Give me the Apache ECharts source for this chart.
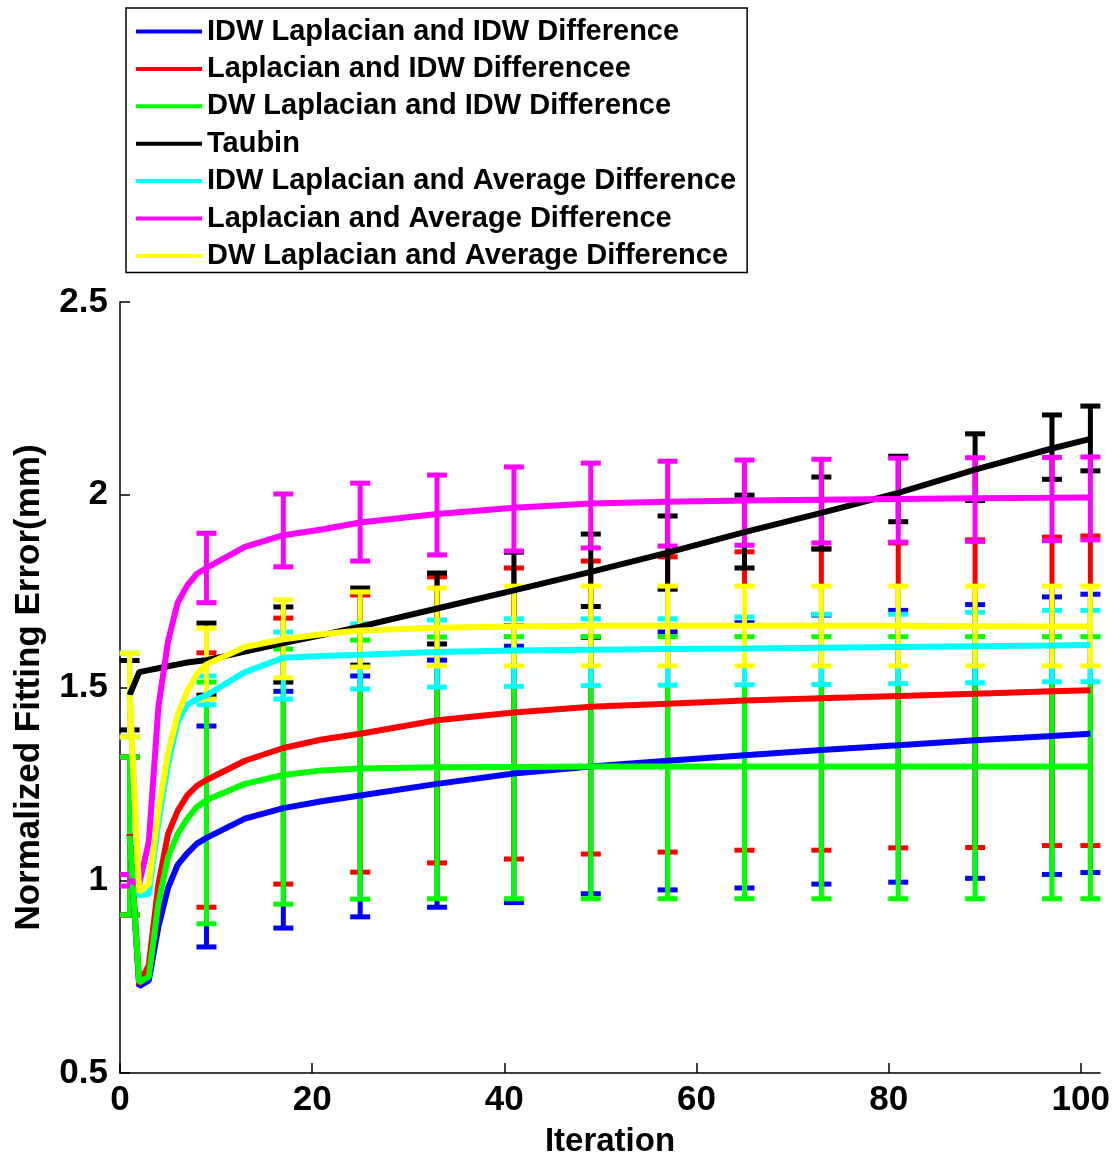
<!DOCTYPE html>
<html>
<head>
<meta charset="utf-8">
<script src="https://cdn.jsdelivr.net/npm/echarts@6/dist/echarts.min.js"></script>
<style>
  html, body { margin: 0; padding: 0; background: #fff; }
  #chart { width: 1112px; height: 1160px; }
</style>
</head>
<body>
<div id="chart"></div>
<script>
// iterations where the curves are sampled
var iterations = [1, 2, 3, 4, 5, 6, 7, 8, 9, 13, 17, 21, 25, 33, 41, 49, 57, 65, 73, 81, 89, 97, 101];

var idwLapIdwDiff = [1.12, 0.725, 0.74, 0.88, 0.98, 1.04, 1.07, 1.095, 1.11, 1.16, 1.187, 1.205, 1.22, 1.25, 1.277, 1.295, 1.31, 1.324, 1.338, 1.35, 1.363, 1.374, 1.38];
var lapIdwDiff    = [1.12, 0.73, 0.78, 0.99, 1.12, 1.18, 1.22, 1.245, 1.26, 1.31, 1.343, 1.365, 1.38, 1.415, 1.435, 1.45, 1.458, 1.466, 1.472, 1.478, 1.484, 1.49, 1.493];
var dwLapIdwDiff  = [1.115, 0.735, 0.75, 0.94, 1.06, 1.12, 1.16, 1.19, 1.208, 1.25, 1.273, 1.285, 1.29, 1.293, 1.294, 1.295, 1.295, 1.295, 1.295, 1.295, 1.295, 1.295, 1.295];
var taubin        = [1.48, 1.54, 1.545, 1.55, 1.555, 1.56, 1.565, 1.568, 1.571, 1.593, 1.615, 1.636, 1.658, 1.705, 1.752, 1.80, 1.85, 1.903, 1.953, 2.005, 2.065, 2.12, 2.145];
var idwLapAvgDiff = [1.48, 0.96, 0.965, 1.15, 1.30, 1.41, 1.455, 1.47, 1.48, 1.54, 1.577, 1.582, 1.585, 1.592, 1.596, 1.598, 1.60, 1.601, 1.603, 1.605, 1.607, 1.609, 1.61];
var lapAvgDiff    = [1.0, 0.99, 1.10, 1.45, 1.62, 1.72, 1.765, 1.795, 1.81, 1.865, 1.895, 1.91, 1.928, 1.95, 1.966, 1.977, 1.982, 1.985, 1.987, 1.989, 1.991, 1.992, 1.993];
var dwLapAvgDiff  = [1.48, 0.97, 0.99, 1.18, 1.33, 1.43, 1.49, 1.535, 1.56, 1.605, 1.625, 1.638, 1.648, 1.655, 1.658, 1.66, 1.66, 1.66, 1.66, 1.66, 1.659, 1.658, 1.658];

// iterations with error bars, lower / upper ends
var errIterations = [1, 9, 17, 25, 33, 41, 49, 57, 65, 73, 81, 89, 97, 101];

var idwLapIdwLow  = [0.91, 0.827, 0.876, 0.905, 0.93, 0.942, 0.965, 0.975, 0.98, 0.99, 0.995, 1.005, 1.015, 1.02];
var idwLapIdwHigh = [1.32, 1.40, 1.49, 1.53, 1.571, 1.607, 1.63, 1.644, 1.668, 1.688, 1.70, 1.715, 1.735, 1.742];
var lapIdwLow     = [0.91, 0.93, 0.99, 1.021, 1.045, 1.055, 1.068, 1.073, 1.078, 1.078, 1.084, 1.085, 1.09, 1.09];
var lapIdwHigh    = [1.32, 1.59, 1.68, 1.74, 1.787, 1.81, 1.828, 1.839, 1.852, 1.86, 1.875, 1.883, 1.89, 1.893];
var dwLapIdwLow   = [0.91, 0.887, 0.938, 0.951, 0.952, 0.952, 0.952, 0.952, 0.952, 0.952, 0.952, 0.952, 0.952, 0.952];
var dwLapIdwHigh  = [1.32, 1.514, 1.60, 1.623, 1.631, 1.632, 1.632, 1.632, 1.632, 1.632, 1.632, 1.632, 1.632, 1.632];
var taubinLow     = [1.39, 1.48, 1.514, 1.558, 1.613, 1.66, 1.71, 1.755, 1.81, 1.859, 1.93, 1.985, 2.04, 2.062];
var taubinHigh    = [1.57, 1.667, 1.709, 1.758, 1.797, 1.851, 1.898, 1.945, 1.999, 2.046, 2.10, 2.158, 2.207, 2.23];
var idwLapAvgLow  = [1.372, 1.455, 1.47, 1.496, 1.501, 1.503, 1.505, 1.506, 1.507, 1.508, 1.51, 1.512, 1.515, 1.515];
var idwLapAvgHigh = [1.589, 1.53, 1.644, 1.665, 1.675, 1.678, 1.678, 1.678, 1.683, 1.69, 1.69, 1.695, 1.70, 1.70];
var lapAvgLow     = [0.985, 1.72, 1.813, 1.828, 1.844, 1.854, 1.862, 1.867, 1.869, 1.875, 1.877, 1.879, 1.881, 1.883];
var lapAvgHigh    = [1.015, 1.90, 2.002, 2.03, 2.051, 2.072, 2.082, 2.087, 2.09, 2.092, 2.095, 2.096, 2.097, 2.098];
var dwLapAvgLow   = [1.372, 1.47, 1.525, 1.553, 1.556, 1.556, 1.556, 1.556, 1.556, 1.556, 1.556, 1.556, 1.556, 1.556];
var dwLapAvgHigh  = [1.589, 1.654, 1.727, 1.748, 1.758, 1.763, 1.763, 1.763, 1.763, 1.763, 1.763, 1.763, 1.763, 1.763];

var names = [
    'IDW Laplacian and IDW Difference',
    'Laplacian and IDW Differencee',
    'DW Laplacian and IDW Difference',
    'Taubin',
    'IDW Laplacian and Average Difference',
    'Laplacian and Average Difference',
    'DW Laplacian and Average Difference'
];
var colors = ['#0000ff', '#ff0000', '#00ff00', '#000000', '#00ffff', '#ff00ff', '#ffff00'];
var means = [idwLapIdwDiff, lapIdwDiff, dwLapIdwDiff, taubin, idwLapAvgDiff, lapAvgDiff, dwLapAvgDiff];
var lows = [idwLapIdwLow, lapIdwLow, dwLapIdwLow, taubinLow, idwLapAvgLow, lapAvgLow, dwLapAvgLow];
var highs = [idwLapIdwHigh, lapIdwHigh, dwLapIdwHigh, taubinHigh, idwLapAvgHigh, lapAvgHigh, dwLapAvgHigh];

var font = 'Liberation Sans, Arial, Helvetica, sans-serif';

// vertical bar with caps
function renderErrorBar(params, api) {
    var x = api.value(0);
    var top = api.coord([x, api.value(2)]);
    var bot = api.coord([x, api.value(1)]);
    var hw = 10;
    var style = { stroke: api.visual('color'), lineWidth: 5, fill: null };
    return {
        type: 'group',
        children: [
            { type: 'line', shape: { x1: top[0], y1: top[1], x2: bot[0], y2: bot[1] }, style: style },
            { type: 'line', shape: { x1: top[0] - hw, y1: top[1], x2: top[0] + hw, y2: top[1] }, style: style },
            { type: 'line', shape: { x1: bot[0] - hw, y1: bot[1], x2: bot[0] + hw, y2: bot[1] }, style: style }
        ]
    };
}

var series = [];
for (var i = 0; i < names.length; i++) {
    series.push({
        name: names[i],
        type: 'line',
        color: colors[i],
        symbol: 'none',
        animation: false,
        lineStyle: { width: 6, color: colors[i] },
        data: iterations.map(function (x, k) { return [x, this[k]]; }, means[i])
    });
    series.push({
        name: names[i],
        type: 'custom',
        color: colors[i],
        animation: false,
        renderItem: renderErrorBar,
        encode: { x: 0, y: [1, 2] },
        data: errIterations.map(function (x, k) { return [x, lows[this][k], highs[this][k]]; }, i)
    });
}

var myChart = echarts.init(document.getElementById('chart'));
myChart.setOption({
    backgroundColor: '#fff',
    animation: false,
    grid: { left: 120, right: 12, top: 302, bottom: 87, outerBoundsMode: 'none' },
    legend: {
        data: names,
        orient: 'vertical',
        left: 126,
        top: 8,
        icon: 'rect',
        itemWidth: 66,
        itemHeight: 4,
        itemGap: 8.4,
        padding: [9, 11, 2, 10],
        borderColor: '#000',
        borderWidth: 1.5,
        backgroundColor: '#fff',
        selectedMode: false,
        textStyle: { fontFamily: font, fontSize: 29, fontWeight: 'bold', color: '#000', lineHeight: 28 }
    },
    xAxis: {
        type: 'value',
        min: 0,
        max: 102,
        interval: 20,
        name: 'Iteration',
        nameLocation: 'middle',
        nameGap: 52,
        nameTextStyle: { fontFamily: font, fontSize: 33, fontWeight: 'bold', color: '#000' },
        axisLine: { lineStyle: { color: '#000', width: 1.5 } },
        axisTick: { inside: true, length: 10, lineStyle: { color: '#000', width: 1.5 } },
        axisLabel: { fontFamily: font, fontSize: 35, fontWeight: 'bold', color: '#000', margin: 10 },
        splitLine: { show: false }
    },
    yAxis: {
        type: 'value',
        min: 0.5,
        max: 2.5,
        interval: 0.5,
        name: 'Normalized Fitting Error(mm)',
        nameLocation: 'middle',
        nameGap: 73,
        nameTextStyle: { fontFamily: font, fontSize: 35, fontWeight: 'bold', color: '#000' },
        axisLine: { show: true, lineStyle: { color: '#000', width: 1.5 } },
        axisTick: { show: true, inside: true, length: 10, lineStyle: { color: '#000', width: 1.5 } },
        axisLabel: { fontFamily: font, fontSize: 35, fontWeight: 'bold', color: '#000', margin: 12 },
        splitLine: { show: false }
    },
    series: series
});
</script>
</body>
</html>
